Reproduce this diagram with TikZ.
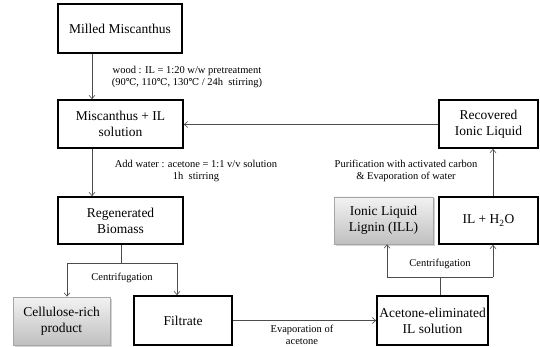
\documentclass[tikz,border=0pt]{standalone}
\usepackage{fontspec}
\setmainfont{Liberation Serif}
\newfontfamily\symfont{DejaVu Serif}
\usetikzlibrary{arrows.meta,shadows}
\newcommand{\degc}{{\symfont\fontsize{9.5}{12}\selectfont ℃}}
\tikzset{
  box/.style={draw=black, line width=1.7pt, fill=white, rectangle, align=center,
    font=\fontsize{13.5}{16}\selectfont, inner sep=0pt},
  graybox/.style={draw=gray!70, line width=0.6pt, rectangle, align=center,
    top color=gray!10, bottom color=gray!50,
    drop shadow={shadow xshift=1.5pt, shadow yshift=-1.5pt, opacity=0.35},
    font=\fontsize{13.5}{16}\selectfont, inner sep=0pt},
  lbl/.style={align=center, font=\fontsize{10.5}{12}\selectfont, inner sep=0pt},
  conn/.style={draw=black!70, line width=0.6pt},
  arr/.style={conn, -{Straight Barb[length=3.5pt,width=6pt]}}
}
\begin{document}
\begin{tikzpicture}[x=1pt,y=-1pt]
\useasboundingbox (0,0) rectangle (540,347);
% boxes
\node[box, minimum width=124pt, minimum height=49pt] (mm) at (120,28.5) {Milled Miscanthus};
\node[box, minimum width=125pt, minimum height=48pt] (mil) at (120.5,124) {Miscanthus + IL\\solution};
\node[box, minimum width=99pt, minimum height=48pt] (rec) at (488.5,124) {Recovered\\Ionic Liquid};
\node[box, minimum width=125pt, minimum height=47pt] (reg) at (120.5,220.5) {Regenerated\\Biomass};
\node[graybox, minimum width=97pt, minimum height=48pt] (cel) at (61.5,321) {Cellulose-rich\\product};
\node[box, minimum width=98pt, minimum height=49pt] (fil) at (183,320.5) {Filtrate};
\node[graybox, minimum width=99pt, minimum height=47pt] (ill) at (383.5,220.5) {Ionic Liquid\\Lignin (ILL)};
\node[box, minimum width=99pt, minimum height=47pt] (ilh) at (488.5,220.5) {IL + H\textsubscript{2}O};
\node[box, minimum width=111pt, minimum height=49pt] (ace) at (432.5,320.5) {Acetone-eliminated\\IL solution};
% helper coordinates
\coordinate (x92) at (92,0);
\coordinate (j1) at (121,263);
\coordinate (a1) at (67,263);
\coordinate (a2) at (177,263);
\coordinate (j2) at (440,277);
\coordinate (b1) at (387,277);
\coordinate (b2) at (493,277);
\coordinate (r1) at (0,124.5);
% connectors
\draw[arr] (mm.south -| x92) -- (mil.north -| x92);
\draw[arr] (mil.south -| x92) -- (reg.north -| x92);
\draw[conn] (reg.south -| j1) -- (j1);
\draw[conn] (a1) -- (a2);
\draw[arr] (a1) -- (cel.north -| a1);
\draw[arr] (a2) -- (fil.north -| a2);
\draw[arr] (fil.east) -- (ace.west);
\draw[conn] (ace.north -| j2) -- (j2);
\draw[conn] (b1) -- (b2);
\draw[arr] (b1) -- (ill.south -| b1);
\draw[arr] (b2) -- (ilh.south -| b2);
\draw[arr] (ilh.north -| b2) -- (rec.south -| b2);
\draw[arr] (rec.west |- r1) -- (mil.east |- r1);
% labels
\node[lbl] (t1) at (187,77) {wood : IL = 1:20 w/w pretreatment\\(90\degc, 110\degc, 130\degc{} / 24h\ \ stirring)};
\node[lbl] (t2) at (196,171) {Add water : acetone = 1:1 v/v solution\\1h\ \ stirring};
\node[lbl] (t3) at (406,171) {Purification with activated carbon\\\& Evaporation of water};
\node[lbl] (t4) at (122,278) {Centrifugation};
\node[lbl] (t5) at (440,264) {Centrifugation};
\node[lbl] (t6) at (302,334.5) {Evaporation of\\acetone};
\end{tikzpicture}
\end{document}
